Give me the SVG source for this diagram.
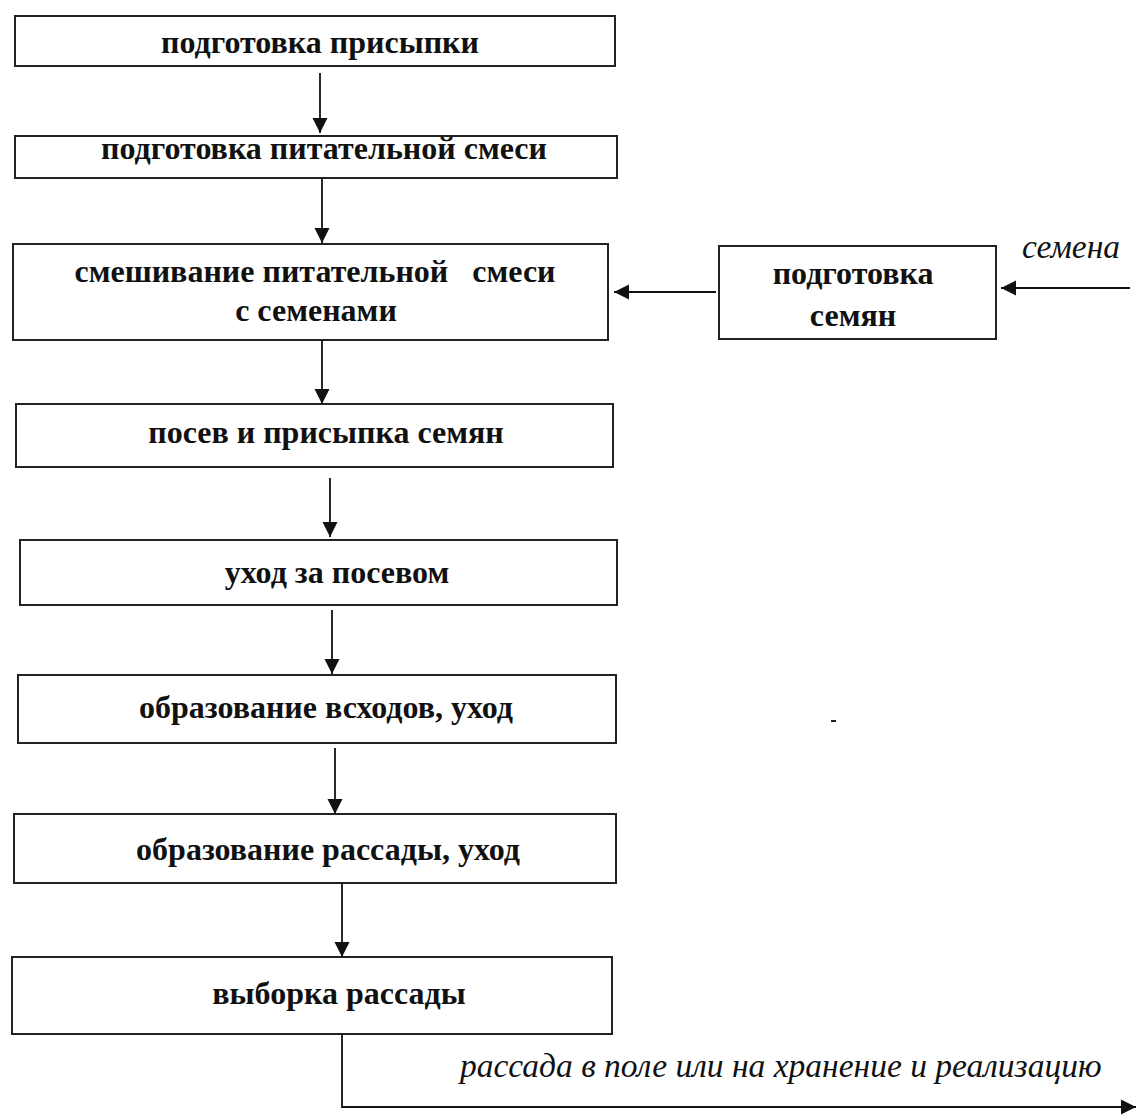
<svg xmlns="http://www.w3.org/2000/svg" width="1137" height="1115" viewBox="0 0 1137 1115">
<style>
.box{fill:#fff;stroke:#222;stroke-width:2}
.t{font-family:"Liberation Serif","Times New Roman","DejaVu Serif",serif;font-weight:bold;font-size:32px;fill:#111;text-anchor:middle}
.it{font-family:"Liberation Serif","Times New Roman","DejaVu Serif",serif;font-style:italic;font-size:33.5px;fill:#111}
.c{fill:none;stroke:#111;stroke-width:1.8}
</style>
<defs>
<marker id="ah" markerUnits="userSpaceOnUse" markerWidth="17" markerHeight="17" refX="15" refY="8.5" orient="auto">
<path d="M0,1 L15,8.5 L0,16 Z" fill="#111"/>
</marker>
</defs>
<rect width="1137" height="1115" fill="#fff"/>
<g id="n1"><rect class="box" x="15" y="16" width="600" height="50"/><text class="t" x="320" y="53">подготовка присыпки</text></g>
<g id="n2"><rect class="box" x="15" y="136" width="602" height="42"/><text class="t" x="324" y="159">подготовка питательной смеси</text></g>
<g id="n3"><rect class="box" x="13" y="244" width="595" height="96"/><text class="t" x="315" y="282" xml:space="preserve">смешивание питательной   смеси</text><text class="t" x="316" y="321">с семенами</text></g>
<g id="n_seeds"><rect class="box" x="719" y="246" width="277" height="93"/><text class="t" x="853" y="284">подготовка</text><text class="t" x="853" y="326">семян</text></g>
<g id="n4"><rect class="box" x="16" y="404" width="597" height="63"/><text class="t" x="326" y="443">посев и присыпка семян</text></g>
<g id="n5"><rect class="box" x="20" y="540" width="597" height="65"/><text class="t" x="337" y="583">уход за посевом</text></g>
<g id="n6"><rect class="box" x="18" y="675" width="598" height="68"/><text class="t" x="326" y="718">образование всходов, уход</text></g>
<g id="n7"><rect class="box" x="14" y="814" width="602" height="69"/><text class="t" x="328" y="860">образование рассады, уход</text></g>
<g id="n8"><rect class="box" x="12" y="957" width="600" height="77"/><text class="t" x="339" y="1004">выборка рассады</text></g>
<g id="labels">
<text class="it" x="1022" y="258">семена</text>
<text class="it" x="460" y="1077">рассада в поле или на хранение и реализацию</text>
</g>
<g id="connectors">
<line class="c" x1="320" y1="73" x2="320" y2="133" marker-end="url(#ah)"/>
<line class="c" x1="322" y1="178" x2="322" y2="243" marker-end="url(#ah)"/>
<line class="c" x1="322" y1="340" x2="322" y2="404" marker-end="url(#ah)"/>
<line class="c" x1="330" y1="478" x2="330" y2="537" marker-end="url(#ah)"/>
<line class="c" x1="332" y1="610" x2="332" y2="674" marker-end="url(#ah)"/>
<line class="c" x1="335" y1="748" x2="335" y2="814" marker-end="url(#ah)"/>
<line class="c" x1="342" y1="883" x2="342" y2="957" marker-end="url(#ah)"/>
<line class="c" x1="716" y1="292" x2="614" y2="292" marker-end="url(#ah)"/>
<line class="c" x1="1130" y1="288" x2="1001" y2="288" marker-end="url(#ah)"/>
<polyline class="c" points="342,1034 342,1107 1136,1107" marker-end="url(#ah)"/>
</g>
<rect x="831" y="720" width="5" height="2" fill="#222"/>
</svg>
